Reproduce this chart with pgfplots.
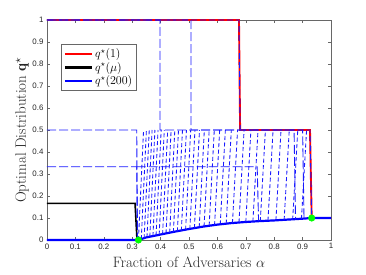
\documentclass[border=0pt]{standalone}
\usepackage{fontspec}
\newfontfamily\ticksf{Liberation Sans}
\usepackage{pgfplots}
\pgfplotsset{compat=1.18}
\definecolor{dblue}{rgb}{0.1,0.1,1}
\definecolor{mgray}{rgb}{0.15,0.15,0.15}
\definecolor{mred}{rgb}{1,0,0}
\definecolor{mblue}{rgb}{0,0,1}
\definecolor{mgreen}{rgb}{0,1,0}
\begin{document}
\begin{tikzpicture}
\path[use as bounding box] (-47pt,-34pt) rectangle (319pt,240pt);
\begin{axis}[
  at={(0pt,0pt)}, anchor=south west,
  scale only axis, width=284pt, height=220pt,
  xmin=0, xmax=1, ymin=0, ymax=1,
  xtick={0,0.1,0.2,0.3,0.4,0.5,0.6,0.7,0.8,0.9,1},
  ytick={0,0.1,0.2,0.3,0.4,0.5,0.6,0.7,0.8,0.9,1},
  /pgf/number format/assume math mode=true,
  tick label style={font=\ticksf\fontsize{7.9}{9}\selectfont, text=mgray},
  axis line style={mgray!70, line width=0.6pt},
  tick style={mgray!70, line width=0.5pt},
  major tick length=3pt,
  tick align=inside,
  clip=false,
  unbounded coords=jump,
  xlabel={Fraction of Adversaries $\alpha$},
  ylabel={Optimal Distribution $\mathbf{q}^\star$},
  label style={font=\fontsize{15}{18}\selectfont, text=mgray},
  xlabel style={at={(axis description cs:0.5,-0.126)}, anchor=base},
  ylabel style={at={(axis description cs:-0.074,0.5)}, anchor=base},
  legend style={at={(axis description cs:0.049,0.891)}, anchor=north west,
    draw=mgray!70, line width=0.6pt, font=\fontsize{12}{14}\selectfont, row sep=-1pt, inner sep=2.5pt},
  legend cell align=left,
  legend image code/.code={\draw[#1, line width=2.4pt] (0pt,0pt) -- (27pt,0pt);},
]
% legend series
\addplot[color=mred, line width=1.9pt] coordinates {(0,1)(0.676,1)(0.680,0.5)(0.926,0.5)(0.932,0.1)(1,0.1)};
\addlegendentry{$q^\star(1)$}
\addplot[color=black, line width=1.6pt] coordinates {(0,0.1667)(0.310,0.1667)(0.317,0)(0.322,0)};
\addlegendentry{$q^\star(\mu)$}
\addplot[color=mblue, line width=2.2pt] coordinates {(0,0)(0.322,0)(0.35,0.012)(0.4,0.025)(0.45,0.038)(0.5,0.05)(0.55,0.061)(0.6,0.07)(0.65,0.077)(0.7,0.082)(0.75,0.086)(0.8,0.089)(0.85,0.093)(0.9,0.097)(0.932,0.1)(1,0.1)};
\addlegendentry{$q^\star(200)$}
% intermediate dashed series
\addplot[dblue, line width=0.9pt, dash pattern=on 6pt off 3pt, forget plot] coordinates {(0,1)(0.676,1)(0.680,0.5)(0.926,0.5)(0.932,0.1)};
\addplot[dblue, line width=0.9pt, dash pattern=on 9pt off 3pt, forget plot] coordinates {(0,1)(0.398,1)(0.398,0.5)(0.90,0.5)(0.905,0.096)};
\addplot[dblue, line width=0.9pt, dash pattern=on 9pt off 3pt, forget plot] coordinates {(0,1)(0.507,1)(0.507,0.5)(0.87,0.5)(0.875,0.094)};
\addplot[dblue, line width=0.9pt, dash pattern=on 9pt off 3pt, forget plot] coordinates {(0,0.5)(0.316,0.5)(0.318,0)};
\addplot[dblue, line width=0.9pt, dash pattern=on 9pt off 3pt, forget plot] coordinates {(0,0.333)(0.316,0.333)(0.319,0)};
\addplot[dblue, line width=0.9pt, dash pattern=on 9pt off 3pt, forget plot] coordinates {(0.316,0.333)(0.74,0.333)(0.745,0.086)};
\addplot[dblue, line width=0.85pt, dash pattern=on 4pt off 2.5pt, forget plot] coordinates {
(0.322,0)(0.340,0.5)(0.340,nan)
(0.332,0.004)(0.350,0.5)(0.350,nan)
(0.342,0.008)(0.360,0.5)(0.360,nan)
(0.352,0.012)(0.370,0.5)(0.370,nan)
(0.362,0.015)(0.380,0.5)(0.380,nan)
(0.373,0.018)(0.391,0.5)(0.391,nan)
(0.384,0.021)(0.402,0.5)(0.402,nan)
(0.395,0.024)(0.413,0.5)(0.413,nan)
(0.407,0.027)(0.425,0.5)(0.425,nan)
(0.419,0.030)(0.437,0.5)(0.437,nan)
(0.432,0.033)(0.450,0.5)(0.450,nan)
(0.445,0.036)(0.463,0.5)(0.463,nan)
(0.459,0.039)(0.477,0.5)(0.477,nan)
(0.473,0.043)(0.491,0.5)(0.491,nan)
(0.488,0.047)(0.506,0.5)(0.506,nan)
(0.503,0.050)(0.521,0.5)(0.521,nan)
(0.519,0.054)(0.537,0.5)(0.537,nan)
(0.536,0.058)(0.554,0.5)(0.554,nan)
(0.553,0.062)(0.571,0.5)(0.571,nan)
(0.571,0.065)(0.589,0.5)(0.589,nan)
(0.590,0.068)(0.608,0.5)(0.608,nan)
(0.610,0.071)(0.628,0.5)(0.628,nan)
(0.631,0.074)(0.649,0.5)(0.649,nan)
(0.653,0.077)(0.671,0.5)(0.671,nan)
(0.676,0.080)(0.694,0.5)(0.694,nan)
(0.700,0.082)(0.718,0.5)(0.718,nan)
(0.725,0.084)(0.743,0.5)(0.743,nan)
(0.751,0.086)(0.769,0.5)(0.769,nan)
(0.778,0.088)(0.796,0.5)(0.796,nan)
(0.806,0.089)(0.824,0.5)(0.824,nan)
(0.835,0.091)(0.853,0.5)(0.853,nan)
(0.865,0.093)(0.883,0.5)(0.883,nan)
(0.896,0.096)(0.914,0.5)
};
% green points
\addplot[only marks, mark=*, mark size=3.3pt, color=mgreen, forget plot] coordinates {(0.322,0)(0.932,0.1)};
\end{axis}
\end{tikzpicture}
\end{document}
